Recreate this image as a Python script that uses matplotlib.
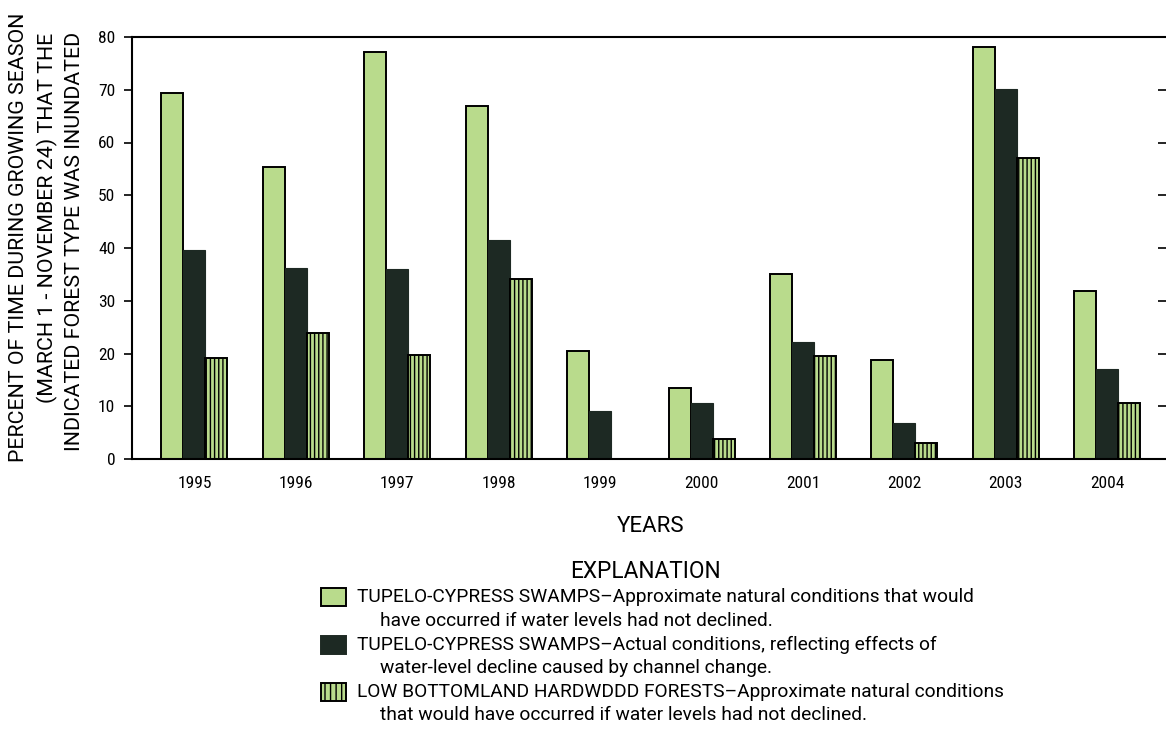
import numpy as np
import matplotlib
matplotlib.use('Agg')
import matplotlib.pyplot as plt
from matplotlib.patches import Rectangle

W, H = 1166, 735

years = ['1995', '1996', '1997', '1998', '1999', '2000', '2001', '2002', '2003', '2004']
swamp_natural = [69.4, 55.4, 77.2, 66.9, 20.5, 13.5, 35.1, 18.8, 78.1, 31.8]
swamp_actual = [39.6, 36.2, 36.0, 41.5, 9.1, 10.6, 22.2, 6.8, 70.1, 17.1]
hardwood_natural = [19.1, 23.9, 19.7, 34.1, 0.0, 3.8, 19.5, 3.0, 57.1, 10.6]
yticks = [0, 10, 20, 30, 40, 50, 60, 70, 80]

ylabel_lines = ['PERCENT OF TIME DURING GROWING SEASON',
                '(MARCH 1 - NOVEMBER 24) THAT THE',
                'INDICATED FOREST TYPE WAS INUNDATED']
legend_lines = [
    ('TUPELO-CYPRESS SWAMPS\u2013Approximate natural conditions that would',
     'have occurred if water levels had not declined.'),
    ('TUPELO-CYPRESS SWAMPS\u2013Actual conditions, reflecting effects of',
     'water-level decline caused by channel change.'),
    ('LOW BOTTOMLAND HARDWDDD FORESTS\u2013Approximate natural conditions',
     'that would have occurred if water levels had not declined.'),
]

GREEN = '#b9db8c'
DARK = '#1d2923'
COND = ['Roboto Condensed', 'DejaVu Sans']
REG = ['Roboto', 'DejaVu Sans']

plt.rcParams['font.family'] = COND
plt.rcParams['hatch.color'] = 'black'
plt.rcParams['hatch.linewidth'] = 1.0


def fx(px):
    return px / W


def fy(py):
    return 1 - py / H


fig = plt.figure(figsize=(W / 100, H / 100), dpi=100)
ax = fig.add_axes([fx(132), fy(459), 1 - fx(132), fy(37) - fy(459)])

x = np.arange(len(years))
w = 0.217
ax.bar(x - w, swamp_natural, w, color=GREEN, edgecolor='black', linewidth=1.4)
ax.bar(x, swamp_actual, w, color=DARK, edgecolor=DARK, linewidth=0.8)
ax.bar(x + w, hardwood_natural, w, color=GREEN, edgecolor='black', linewidth=1.4, hatch='||||')

ax.set_xlim(-0.616, 9.58)
ax.set_ylim(0, 80)
ax.set_yticks(yticks)
ax.set_xticks(x)
ax.set_xticklabels(years)
ax.tick_params(axis='x', length=0, pad=12, labelsize=12.5)
ax.tick_params(axis='y', which='both', direction='out', length=6, width=1.2, pad=6,
               labelsize=12.5, right=True)
ax.spines['right'].set_visible(False)
for s in ('left', 'top', 'bottom'):
    ax.spines[s].set_linewidth(1.5)

# right-side ticks point inward
for t in ax.yaxis.get_major_ticks():
    t.tick2line.set_marker(matplotlib.lines.TICKLEFT)
    t.tick2line.set_markersize(6)

# y label, three lines
for cx, top, txt in zip([19, 47, 75], [13, 33, 32], ylabel_lines):
    fig.text(fx(cx), fy(top), txt, rotation=90, ha='center', va='top',
             fontsize=15.4, family=REG)

fig.text(fx(651), fy(526), 'YEARS', ha='center', va='center', fontsize=16, family=REG)
fig.text(fx(645), fy(571), 'EXPLANATION', ha='center', va='center', fontsize=16.3, family=REG)

styles = [dict(facecolor=GREEN, edgecolor='black'),
          dict(facecolor=DARK, edgecolor=DARK),
          dict(facecolor=GREEN, edgecolor='black', hatch='|||')]
for i, ((l1, l2), st) in enumerate(zip(legend_lines, styles)):
    y0 = 597 + i * 47.5
    fig.add_artist(Rectangle((fx(321), fy(y0 + 9)), fx(25), fy(y0 - 9) - fy(y0 + 9),
                             transform=fig.transFigure, linewidth=1.4, **st))
    fig.text(fx(357), fy(y0), l1, ha='left', va='center', fontsize=13.8, family=REG)
    fig.text(fx(380), fy(y0 + 23.5), l2, ha='left', va='center', fontsize=13.8, family=REG)

fig.savefig('out.png', dpi=100)
